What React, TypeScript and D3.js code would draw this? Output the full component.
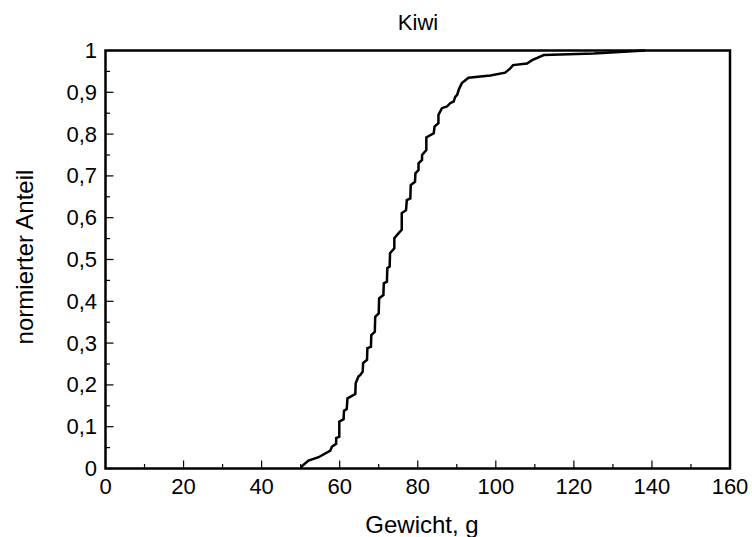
import React from "react";
import * as d3 from "d3";

const weightG = [
  50, 52, 54.6, 57.6, 58, 59.1, 59.1, 59.9, 59.9, 61.0, 61.1, 61.8, 62.0, 64.0, 64.1, 64.8, 65.3, 65.9, 66.0,
  67.0, 67.1, 68.0, 68.1, 69.0, 69.1, 70.0, 70.1, 71.2, 71.3, 72.1, 72.2, 72.8, 72.9, 74.0, 74.0, 75.1, 75.9,
  75.9, 77.0, 77.2, 78.1, 78.2, 79.3, 79.4, 80.2, 80.2, 81.1, 81.1, 82.2, 82.2, 84.1, 84.3, 85.3, 85.3, 86.2,
  87.5, 88.3, 89.2, 89.6, 90.1, 90.5, 91.3, 93.0, 98.6, 102.4, 103.7, 104.4, 108.0, 109.3, 112.3, 125.1, 138.3,
];
const shareNorm = [
  0.003, 0.019, 0.027, 0.043, 0.052, 0.059, 0.073, 0.076, 0.112, 0.118, 0.138, 0.142, 0.168, 0.178, 0.204,
  0.22, 0.224, 0.232, 0.252, 0.26, 0.288, 0.291, 0.319, 0.327, 0.363, 0.371, 0.407, 0.415, 0.443, 0.447,
  0.479, 0.483, 0.515, 0.527, 0.551, 0.563, 0.571, 0.611, 0.618, 0.642, 0.646, 0.678, 0.686, 0.706, 0.714,
  0.73, 0.738, 0.75, 0.762, 0.792, 0.802, 0.818, 0.826, 0.846, 0.862, 0.866, 0.874, 0.878, 0.889, 0.894,
  0.906, 0.922, 0.935, 0.94, 0.947, 0.957, 0.965, 0.969, 0.977, 0.989, 0.993, 1.0,
];
const xMajorTicks = [0, 20, 40, 60, 80, 100, 120, 140, 160];
const xMinorTicks = [10, 30, 50, 70, 90, 110, 130, 150];
const yMajorTicks = [0, 0.1, 0.2, 0.3, 0.4, 0.5, 0.6, 0.7, 0.8, 0.9, 1];
const yMinorTicks = [0.05, 0.15, 0.25, 0.35, 0.45, 0.55, 0.65, 0.75, 0.85, 0.95];

const W = 752;
const H = 537;
const left = 105.5;
const right = 730;
const top = 50.5;
const bottom = 468.5;
const font = "Arial, 'Liberation Sans', sans-serif";

export default function App() {
  const x = d3.scaleLinear().domain([0, 160]).range([left, right]);
  const y = d3.scaleLinear().domain([0, 1]).range([bottom, top]);
  const pts = weightG.map((w, i) => [w, shareNorm[i]] as [number, number]);
  const line = d3
    .line<[number, number]>()
    .x((d) => x(d[0]))
    .y((d) => y(d[1]));
  const fmt = (v: number) => (v === 0 || v === 1 ? String(v) : d3.format(".1f")(v).replace(".", ","));

  return (
    <svg width={W} height={H} style={{ position: "absolute", left: 0, top: 0, background: "#fff" }}>
      <rect x={0} y={0} width={W} height={H} fill="#fff" />
      <text x={418} y={30} textAnchor="middle" fontFamily={font} fontSize={22}>
        Kiwi
      </text>
      {xMajorTicks.map((t) => (
        <line key={"xM" + t} x1={x(t)} x2={x(t)} y1={bottom} y2={bottom - 8} stroke="#000" strokeWidth={1.2} />
      ))}
      {xMinorTicks.map((t) => (
        <line key={"xm" + t} x1={x(t)} x2={x(t)} y1={bottom} y2={bottom - 4.5} stroke="#000" strokeWidth={1.2} />
      ))}
      {yMajorTicks.map((t) => (
        <line key={"yM" + t} x1={left} x2={left + 8} y1={y(t)} y2={y(t)} stroke="#000" strokeWidth={1.2} />
      ))}
      {yMinorTicks.map((t) => (
        <line key={"ym" + t} x1={left} x2={left + 4.5} y1={y(t)} y2={y(t)} stroke="#000" strokeWidth={1.2} />
      ))}
      <path d={line(pts) || ""} fill="none" stroke="#000" strokeWidth={2.5} strokeLinejoin="miter" />
      <rect x={left} y={top} width={right - left} height={bottom - top} fill="none" stroke="#000" strokeWidth={2.5} />
      {xMajorTicks.map((t) => (
        <text key={"xl" + t} x={x(t)} y={494} textAnchor="middle" fontFamily={font} fontSize={22}>
          {t}
        </text>
      ))}
      {yMajorTicks.map((t) => (
        <text key={"yl" + t} x={97} y={y(t) + 7.5} textAnchor="end" fontFamily={font} fontSize={22}>
          {fmt(t)}
        </text>
      ))}
      <text x={422} y={533} textAnchor="middle" fontFamily={font} fontSize={24}>
        Gewicht, g
      </text>
      <text
        transform={`translate(33, 257) rotate(-90)`}
        textAnchor="middle"
        fontFamily={font}
        fontSize={24}
      >
        normierter Anteil
      </text>
    </svg>
  );
}
